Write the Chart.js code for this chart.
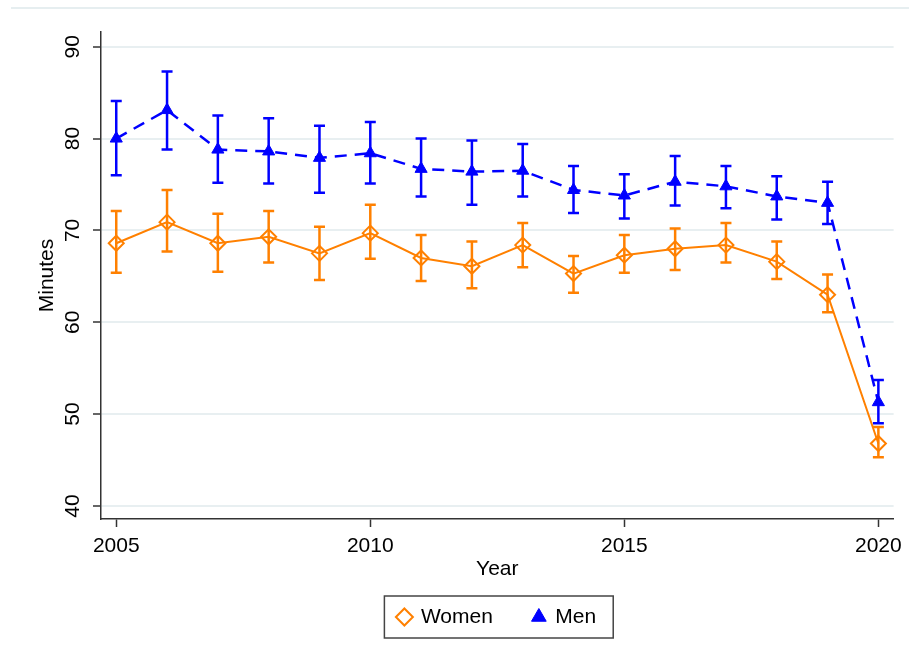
<!DOCTYPE html>
<html>
<head>
<meta charset="utf-8">
<script src="https://cdn.jsdelivr.net/npm/chart.js@4.4.1/dist/chart.umd.min.js"></script>
<style>
  html, body { margin: 0; padding: 0; background: #fff; }
  #wrap { width: 909px; height: 660px; }
</style>
</head>
<body>
<div id="wrap"><canvas id="myChart" width="909" height="660"></canvas></div>
<script>
// Data
const years = [2005, 2006, 2007, 2008, 2009, 2010, 2011, 2012, 2013, 2014, 2015, 2016, 2017, 2018, 2019, 2020];

const womenMean = [68.6, 70.9, 68.6, 69.3, 67.5, 69.7, 67.0, 66.1, 68.4, 65.3, 67.3, 68.0, 68.4, 66.6, 63.0, 46.8];
const womenLow  = [65.4, 67.7, 65.5, 66.5, 64.6, 66.9, 64.5, 63.7, 66.0, 63.2, 65.4, 65.7, 66.5, 64.7, 61.1, 45.3];
const womenHigh = [72.1, 74.4, 71.8, 72.1, 70.4, 72.8, 69.5, 68.8, 70.8, 67.2, 69.5, 70.2, 70.8, 68.8, 65.2, 48.6];

const menMean = [80.0, 83.1, 78.8, 78.6, 77.9, 78.4, 76.7, 76.4, 76.5, 74.4, 73.8, 75.3, 74.8, 73.7, 73.0, 51.3];
const menLow  = [76.0, 78.8, 75.2, 75.1, 74.1, 75.1, 73.7, 72.8, 73.7, 71.9, 71.3, 72.7, 72.4, 71.2, 70.7, 49.0];
const menHigh = [84.1, 87.3, 82.5, 82.2, 81.4, 81.8, 80.0, 79.8, 79.4, 77.0, 76.1, 78.1, 77.0, 75.9, 75.3, 53.7];

const yTicks = [40, 50, 60, 70, 80, 90];
const xTicks = [2005, 2010, 2015, 2020];

const orange = '#ff8000';
const blue = '#0000ff';
const fontFamily = '"Liberation Sans", Arial, sans-serif';

Chart.defaults.font.family = fontFamily;
Chart.defaults.color = '#000';

// caps at the confidence limits
const errorBars = {
    id: 'errorBars',
    beforeDatasetsDraw(chart) {
        const {ctx, scales: {x, y}} = chart;
        chart.data.datasets.forEach(ds => {
            ctx.save();
            ctx.strokeStyle = ds.borderColor;
            ctx.lineWidth = 2.5;
            ctx.setLineDash([]);
            ds.low.forEach((lo, i) => {
                const px = x.getPixelForValue(years[i]);
                const pLo = y.getPixelForValue(lo);
                const pHi = y.getPixelForValue(ds.high[i]);
                ctx.beginPath();
                ctx.moveTo(px, pLo);
                ctx.lineTo(px, pHi);
                ctx.moveTo(px - 5.5, pLo);
                ctx.lineTo(px + 5.5, pLo);
                ctx.moveTo(px - 5.5, pHi);
                ctx.lineTo(px + 5.5, pHi);
                ctx.stroke();
            });
            ctx.restore();
        });
    }
};

// faint frame line at the top and the box round the legend
const frame = {
    id: 'frame',
    beforeDraw(chart) {
        const ctx = chart.ctx;
        ctx.save();
        ctx.strokeStyle = '#e6eef0';
        ctx.lineWidth = 2;
        ctx.beginPath();
        ctx.moveTo(11, 8);
        ctx.lineTo(909, 8);
        ctx.stroke();
        ctx.restore();
    },
    afterDraw(chart) {
        const boxes = chart.legend.legendHitBoxes;
        if (!boxes || !boxes.length) return;
        const left = Math.min(...boxes.map(b => b.left)) - 14;
        const right = Math.max(...boxes.map(b => b.left + b.width)) + 17;
        const mid = boxes[0].top + boxes[0].height / 2;
        const ctx = chart.ctx;
        ctx.save();
        ctx.strokeStyle = '#444';
        ctx.lineWidth = 1.5;
        ctx.strokeRect(left, mid - 21, right - left, 42);
        ctx.restore();
    }
};

const data = {
    datasets: [
        {
            label: 'Women',
            data: years.map((yr, i) => ({x: yr, y: womenMean[i]})),
            low: womenLow,
            high: womenHigh,
            borderColor: orange,
            backgroundColor: 'rgba(0,0,0,0)',
            borderWidth: 2,
            pointStyle: 'rectRot',
            pointRadius: 7.5,
            pointBorderWidth: 2,
            pointBorderColor: orange,
            pointBackgroundColor: 'rgba(0,0,0,0)',
            tension: 0
        },
        {
            label: 'Men',
            data: years.map((yr, i) => ({x: yr, y: menMean[i]})),
            low: menLow,
            high: menHigh,
            borderColor: blue,
            backgroundColor: blue,
            borderWidth: 2.5,
            borderDash: [12, 8],
            pointStyle: 'triangle',
            pointRadius: 7,
            pointBorderWidth: 1,
            pointBorderColor: blue,
            pointBackgroundColor: blue,
            tension: 0
        }
    ]
};

const config = {
    type: 'line',
    data,
    options: {
        responsive: false,
        animation: false,
        layout: { padding: { top: 32, right: 14, left: 0, bottom: 22.5 } },
        scales: {
            x: {
                type: 'linear',
                min: 2004.7,
                max: 2020.3,
                afterFit: s => { s.height = 47.5; },
                afterBuildTicks: s => { s.ticks = xTicks.map(v => ({value: v})); },
                ticks: { font: {size: 21}, color: '#000', padding: 7, includeBounds: false, callback: v => String(v) },
                grid: { drawOnChartArea: false, drawTicks: true, tickLength: 8, tickColor: '#333', tickWidth: 1.5 },
                border: { color: '#333', width: 1.5 },
                title: { display: true, text: 'Year', font: {size: 21}, color: '#000', padding: {top: 0, bottom: -15} }
            },
            y: {
                min: 38.58,
                max: 91.6,
                afterFit: s => { s.width = 101; },
                afterBuildTicks: s => { s.ticks = yTicks.map(v => ({value: v})); },
                ticks: { font: {size: 21}, color: '#000', padding: 8, minRotation: 90, maxRotation: 90, crossAlign: 'center', includeBounds: false },
                grid: { color: '#e8eff1', lineWidth: 2, drawTicks: true, tickLength: 8, tickColor: '#333', tickWidth: 1.5 },
                border: { color: '#333', width: 1.5 },
                title: { display: true, text: 'Minutes', font: {size: 21}, color: '#000', padding: {top: 35, bottom: 0} }
            }
        },
        plugins: {
            legend: {
                position: 'bottom',
                fullSize: false,
                labels: { usePointStyle: true, boxWidth: 12, boxHeight: 12, padding: 40, color: '#000', font: {size: 21} }
            },
            tooltip: { enabled: false }
        }
    },
    plugins: [errorBars, frame]
};

const ctx = document.getElementById('myChart').getContext('2d');
let myChart = new Chart(ctx, config);
</script>
</body>
</html>
